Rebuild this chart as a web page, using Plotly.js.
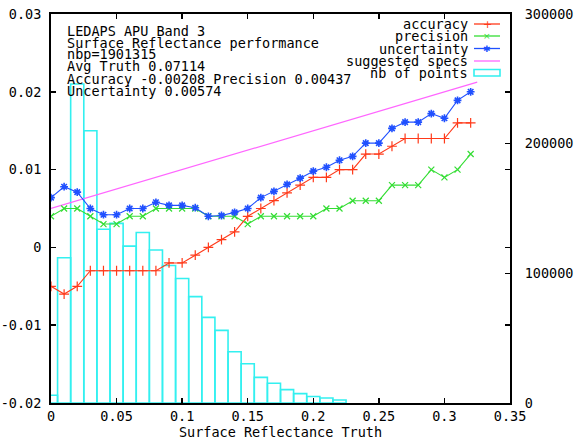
<!DOCTYPE html>
<html>
<head>
<meta charset="utf-8">
<script src="https://cdn.plot.ly/plotly-3.0.1.min.js"></script>
<style>html,body{margin:0;padding:0;background:#fff}#chart{width:577px;height:440px}</style>
</head>
<body>
<div id="chart"></div>
<script>
// ---- data ----
const truthX = [0.00,0.01,0.02,0.03,0.04,0.05,0.06,0.07,0.08,0.09,0.10,0.11,0.12,0.13,0.14,0.15,0.16,0.17,0.18,0.19,0.20,0.21,0.22,0.23,0.24,0.25,0.26,0.27,0.28,0.29,0.30,0.31,0.32];
const accuracy = [-0.005,-0.006,-0.005,-0.003,-0.003,-0.003,-0.003,-0.003,-0.003,-0.002,-0.002,-0.001,0.000,0.001,0.002,0.004,0.005,0.006,0.007,0.008,0.009,0.009,0.010,0.010,0.012,0.012,0.013,0.014,0.014,0.014,0.014,0.016,0.016];
const precision = [0.004,0.005,0.005,0.004,0.003,0.003,0.004,0.004,0.005,0.005,0.005,0.005,0.004,0.004,0.004,0.003,0.004,0.004,0.004,0.004,0.004,0.005,0.005,0.006,0.006,0.006,0.008,0.008,0.008,0.010,0.009,0.010,0.012];
const uncertainty = [0.0064,0.0078,0.0071,0.0050,0.0042,0.0042,0.0050,0.0050,0.0058,0.0054,0.0054,0.0051,0.0040,0.0041,0.0045,0.0050,0.0064,0.0072,0.0081,0.0089,0.0098,0.0103,0.0112,0.0117,0.0134,0.0134,0.0153,0.0161,0.0161,0.0172,0.0166,0.0189,0.0200];
const specX = [0.0, 0.325];
const specY = [0.005, 0.02125];
const binCenters = [0.00,0.01,0.02,0.03,0.04,0.05,0.06,0.07,0.08,0.09,0.10,0.11,0.12,0.13,0.14,0.15,0.16,0.17,0.18,0.19,0.20,0.21,0.22];
const nbPoints = [6000,112000,246000,210000,134000,138500,121000,131500,118000,106000,96000,82000,66000,56000,39500,30300,19800,15200,10300,7200,5000,3900,2300];

const xTickVals = [0,0.05,0.1,0.15,0.2,0.25,0.3,0.35];
const xTickText = ['0','0.05','0.1','0.15','0.2','0.25','0.3','0.35'];
const yTickVals = [-0.02,-0.01,0,0.01,0.02,0.03];
const yTickText = ['-0.02','-0.01','0','0.01','0.02','0.03'];
const y2TickVals = [0,100000,200000,300000];
const y2TickText = ['0','100000','200000','300000'];

const infoLines = ['LEDAPS APU Band 3','Surface Reflectance performance','nbp=1901315','Avg Truth 0.07114','Accuracy -0.00208 Precision 0.00437','Uncertainty 0.00574'];
const legendNames = ['accuracy','precision','uncertainty','suggested specs','nb of points'];

// ---- styles ----
const C = {red:'#ff3a1a', green:'#33dd33', blue:'#2050ff', mag:'#ff66ff', cyan:'#33f0f0'};
const FONT = 'DejaVu Sans Mono, monospace';
const FS = 13.5;

const traces = [
  {type:'bar', x:binCenters, y:nbPoints, width:0.01, xaxis:'x', yaxis:'y',
   marker:{color:'rgba(0,0,0,0)', line:{color:C.cyan, width:1.6}}, name:legendNames[4], showlegend:false},
  {type:'scatter', mode:'lines', x:specX, y:specY, xaxis:'x', yaxis:'y2',
   line:{color:C.mag, width:1.2}, name:legendNames[3], showlegend:false},
  {type:'scatter', mode:'lines+markers', x:truthX, y:precision, xaxis:'x', yaxis:'y2',
   line:{color:C.green, width:1.1}, marker:{symbol:'x-thin-open', size:6, line:{color:C.green, width:1.2}}, name:legendNames[1], showlegend:false},
  {type:'scatter', mode:'lines+markers', x:truthX, y:accuracy, xaxis:'x', yaxis:'y2',
   line:{color:C.red, width:1.1}, marker:{symbol:'cross-thin-open', size:7, line:{color:C.red, width:1.2}}, name:legendNames[0], showlegend:false},
  {type:'scatter', mode:'lines+markers', x:truthX, y:uncertainty, xaxis:'x', yaxis:'y2',
   line:{color:C.blue, width:1.1}, marker:{symbol:'asterisk-open', size:6.5, line:{color:C.blue, width:1.6}}, name:legendNames[2], showlegend:false}
];

// paper helpers (plot area 51..510 x 14..403 px)
const PL=51, PR=510, PT=14, PB=403;
const px = v => (v-PL)/(PR-PL);
const py = v => (PB-v)/(PB-PT);

const annotations = [];
const infoY = [30.5,42.5,54.5,66.5,78.5,90.5];
infoLines.forEach((t,i)=>annotations.push({xref:'paper',yref:'paper',x:px(66),y:py(infoY[i]),xanchor:'left',yanchor:'middle',text:t,showarrow:false,borderpad:0,font:{family:FONT,size:FS,color:'#000'}}));
const legY = [24,36,48.5,61,73];
legendNames.forEach((t,i)=>annotations.push({xref:'paper',yref:'paper',x:px(469),y:py(legY[i]),xanchor:'right',yanchor:'middle',text:t,showarrow:false,borderpad:0,font:{family:FONT,size:FS,color:'#000'}}));
const legColors=[C.red,C.green,C.blue,C.mag];
const glyphs=['+','×','✱'];
glyphs.forEach((g,i)=>annotations.push({xref:'paper',yref:'paper',x:px(487),y:py(legY[i]),xanchor:'center',yanchor:'middle',text:g,showarrow:false,borderpad:0,font:{family:'DejaVu Sans',size:i===0?11:9,color:legColors[i]}}));

const shapes = [];
for(let i=0;i<4;i++) shapes.push({type:'line',xref:'paper',yref:'paper',x0:px(474),x1:px(500),y0:py(legY[i]),y1:py(legY[i]),line:{color:legColors[i],width:1.3}});
shapes.push({type:'rect',xref:'paper',yref:'paper',x0:px(474),x1:px(500),y0:py(69.5),y1:py(76),line:{color:C.cyan,width:1.6}});

const axisCommon = {showgrid:false, zeroline:false, ticks:'inside', ticklen:5, tickwidth:1.5, tickcolor:'#000',
  tickfont:{family:FONT,size:FS,color:'#000'}, linecolor:'#000', linewidth:2};

const layout = {
  width:577, height:440,
  margin:{l:PL, r:577-PR, t:PT, b:440-PB, pad:0},
  paper_bgcolor:'#fff', plot_bgcolor:'#fff',
  showlegend:false, barmode:'overlay', bargap:0,
  xaxis:Object.assign({}, axisCommon, {range:[0,0.35], tickmode:'array', tickvals:xTickVals, ticktext:xTickText,
    showline:true, mirror:'ticks',
    title:{text:'Surface Reflectance Truth', font:{family:FONT,size:FS,color:'#000'}, standoff:4}}),
  yaxis:Object.assign({}, axisCommon, {side:'right', range:[0,300000], tickmode:'array', tickvals:y2TickVals, ticktext:y2TickText,
    showline:true, mirror:false, ticklabelstandoff:10}),
  yaxis2:Object.assign({}, axisCommon, {overlaying:'y', side:'left', range:[-0.02,0.03], tickmode:'array', tickvals:yTickVals, ticktext:yTickText,
    showline:true, mirror:'ticks', ticklabelstandoff:5}),
  annotations:annotations, shapes:shapes
};

Plotly.newPlot('chart', traces, layout, {displayModeBar:false, staticPlot:true});
</script>
</body>
</html>
